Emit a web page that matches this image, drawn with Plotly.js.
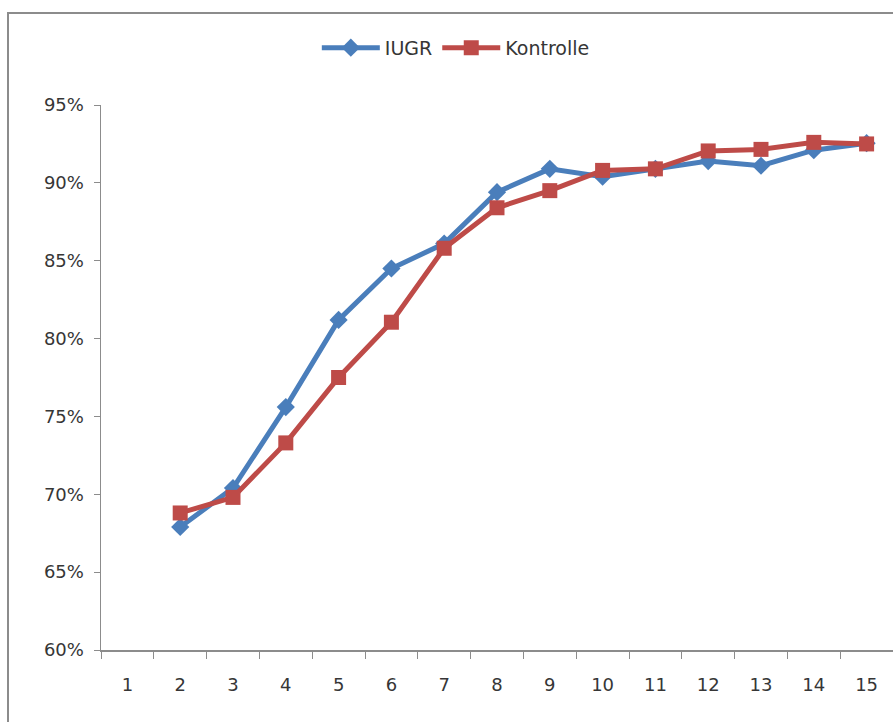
<!DOCTYPE html>
<html>
<head>
<meta charset="utf-8">
<script src="https://cdn.plot.ly/plotly-3.0.1.min.js"></script>
<style>
  html, body { margin: 0; padding: 0; background: #ffffff; }
  #wrap { position: relative; width: 893px; height: 722px; overflow: hidden; }
  #chart { position: absolute; left: 0; top: 0; width: 893px; height: 722px; }
  #frame {
    position: absolute; left: 7px; top: 12px; width: 900px; height: 720px;
    border-left: 2px solid #8c8c8c; border-top: 2px solid #8c8c8c;
    pointer-events: none;
  }
</style>
</head>
<body>
<div id="wrap">
  <div id="chart"></div>
  <div id="frame"></div>
</div>
<script>
// Tag (Messzeitpunkt) 1–15
const periods = ['1', '2', '3', '4', '5', '6', '7', '8', '9', '10', '11', '12', '13', '14', '15'];

// Anteil in Prozent, kein Wert am Tag 1
const iugr = [null, 67.9, 70.4, 75.6, 81.2, 84.5, 86.1, 89.4, 90.9, 90.4, 90.9, 91.4, 91.1, 92.1, 92.55];
const kontrolle = [null, 68.8, 69.8, 73.3, 77.5, 81.05, 85.8, 88.4, 89.5, 90.8, 90.9, 92.05, 92.15, 92.6, 92.5];

const yTicks = [60, 65, 70, 75, 80, 85, 90, 95];
const yTickLabels = yTicks.map(v => v + '%');

const blue = '#4a7ebb';
const red = '#be4b48';
const textColor = '#363636';
const axisColor = '#8c8c8c';
const font = 'DejaVu Sans, sans-serif';

const traces = [
  {
    type: 'scatter', mode: 'lines+markers', name: 'IUGR',
    x: periods, y: iugr,
    line: { color: blue, width: 5 },
    marker: { symbol: 'diamond', size: 14, color: blue }
  },
  {
    type: 'scatter', mode: 'lines+markers', name: 'Kontrolle',
    x: periods, y: kontrolle,
    line: { color: red, width: 5 },
    marker: { symbol: 'square', size: 15, color: red }
  }
];

const layout = {
  width: 893, height: 722,
  margin: { l: 101, r: 0, t: 105, b: 72 },
  paper_bgcolor: '#ffffff',
  plot_bgcolor: '#ffffff',
  font: { family: font, size: 18, color: textColor },
  showlegend: true,
  legend: {
    orientation: 'h', x: 0.448, xanchor: 'center', y: 1.105, yanchor: 'middle',
    font: { family: font, size: 19, color: textColor },
    itemwidth: 58, bgcolor: 'rgba(0,0,0,0)'
  },
  xaxis: {
    type: 'category', categoryorder: 'array', categoryarray: periods,
    range: [-0.5, 14.5],
    tickson: 'boundaries', ticks: 'outside', ticklen: 7, tickcolor: axisColor, tickwidth: 1,
    showline: true, linecolor: axisColor, linewidth: 1.5,
    showgrid: false, zeroline: false,
    tickfont: { family: font, size: 18, color: textColor },
    ticklabelstandoff: 18
  },
  yaxis: {
    range: [60, 95], tickmode: 'array', tickvals: yTicks, ticktext: yTickLabels,
    ticks: 'outside', ticklen: 6, tickcolor: axisColor, tickwidth: 1,
    showline: true, linecolor: axisColor, linewidth: 1.5,
    showgrid: false, zeroline: false,
    tickfont: { family: font, size: 18, color: textColor },
    ticklabelstandoff: 6
  }
};

Plotly.newPlot('chart', traces, layout, { displayModeBar: false, staticPlot: true });
</script>
</body>
</html>
